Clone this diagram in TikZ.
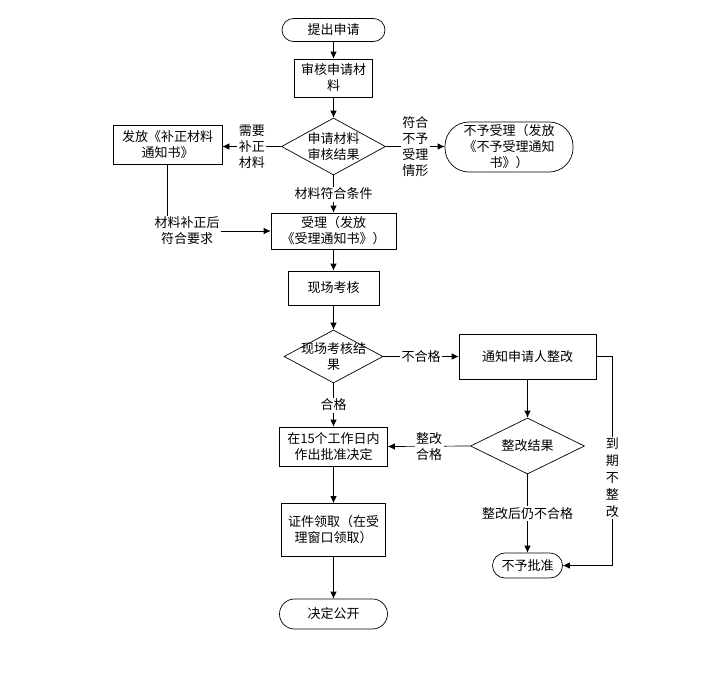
\documentclass[tikz,border=0pt]{standalone}
\usepackage{fontspec}
\newfontfamily\cjk{Noto Sans CJK SC}
\usetikzlibrary{shapes.geometric,arrows.meta}

\begin{document}
\begin{tikzpicture}[x=1pt,y=-1pt,
    every node/.style={font=\cjk\fontsize{13}{16}\selectfont, align=center, inner sep=1pt},
    box/.style={draw, line width=0.7pt, minimum width=#1},
    term/.style={draw, line width=0.7pt, rounded corners=#1},
    dia/.style={draw, line width=0.7pt, diamond, inner sep=0pt},
    lbl/.style={fill=white, inner sep=1.5pt},
    flow/.style={line width=0.7pt, -{Latex[length=7pt,width=6.5pt]}}]
  \useasboundingbox (0,0) rectangle (726,673);

  % Draw the main column
  \node[term=11.5pt, minimum width=103, minimum height=23] (tc) at (333.5,30) {提出申请};
  \node[box=78, minimum height=38] (sh) at (333.5,78) {审核申请材\\料};
  \node[dia, minimum width=104, minimum height=57] (d1) at (333.5,146.5) {};
  \node (d1t) at (d1) {申请材料\\审核结果};
  \node[box=125, minimum height=36] (sl) at (333.5,231) {受理（发放\\《受理通知书》）};
  \node[box=91, minimum height=34] (xc) at (333.5,288) {现场考核};
  \node[dia, minimum width=99, minimum height=53] (d2) at (333.5,356.5) {};
  \node (d2t) at (d2) {现场考核结\\果};
  \node[box=108, minimum height=39] (pz) at (333.5,446.5) {在15个工作日内\\作出批准决定};
  \node[box=104, minimum height=53] (lq) at (333.5,530) {证件领取（在受\\理窗口领取）};
  \node[term=15pt, minimum width=108, minimum height=30] (gk) at (333.5,614) {决定公开};

  % Draw the side branches
  \node[box=109, minimum height=39] (fz) at (167.5,144.5) {发放《补正材料\\通知书》};
  \node (bzh) at (187,231) {材料补正后\\符合要求};
  \node[term=24pt, minimum width=128, minimum height=50] (byl) at (509,147) {不予受理（发放\\《不予受理通知\\书》）};
  \node[box=137, minimum height=45] (tz) at (527.5,356.5) {通知申请人整改};
  \node[dia, minimum width=114, minimum height=56] (d3) at (527.5,446) {};
  \node (d3t) at (d3) {整改结果};
  \node[term=12.5pt, minimum width=70, minimum height=25] (bpz) at (527.5,565.5) {不予批准};

  % Draw the connectors
  \draw[flow] (tc) -- (sh);
  \draw[flow] (sh) -- (d1);
  \draw[flow] (d1.west) -- node[lbl] {需要\\补正\\材料} (fz.east |- d1.west);
  \draw[flow] (d1.east) -- node[lbl] {符合\\不予\\受理\\情形} (byl.west |- d1.east);
  \draw[flow] (d1.south) -- node[lbl] {材料符合条件} (sl.north);
  \draw[line width=0.7pt] (fz.south) -- (fz.south |- bzh.north);
  \draw[flow] (bzh.east) -- (sl.west);
  \draw[flow] (sl) -- (xc);
  \draw[flow] (xc) -- (d2);
  \draw[flow] (d2.east) -- node[lbl] {不合格} (tz.west);
  \draw[flow] (d2.south) -- node[lbl] {合格} (pz.north);
  \draw[flow] (tz.south) -- (d3.north);
  \draw[flow] (d3.west) -- node[lbl] {整改\\合格} (pz.east);
  \draw[flow] (d3.south) -- node[lbl] {整改后仍不合格} (bpz.north);
  \draw[flow] (tz.east) -- ++(16,0) coordinate (c1) |- (bpz.east);
  \node[lbl, font=\cjk\fontsize{13}{17}\selectfont] (dq) at (c1 |- 0,478) {到\\期\\不\\整\\改};
  \draw[flow] (pz) -- (lq);
  \draw[flow] (lq) -- (gk);

\end{tikzpicture}
\end{document}
